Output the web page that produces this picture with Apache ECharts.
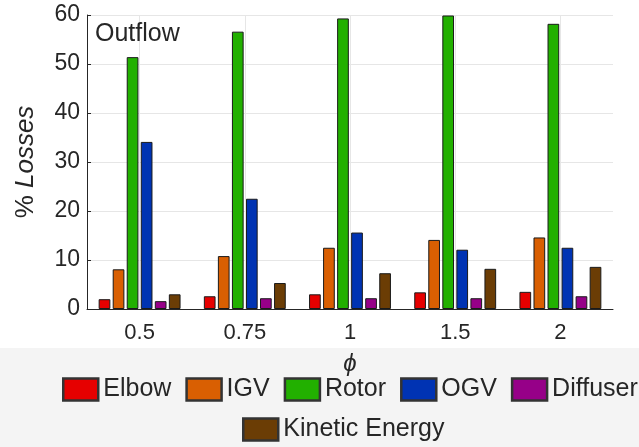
<!DOCTYPE html>
<html>
<head>
<meta charset="utf-8">
<script src="https://cdn.jsdelivr.net/npm/echarts@6/dist/echarts.min.js"></script>
<style>html,body{margin:0;padding:0;background:#fff}#c{width:639px;height:447px}</style>
</head>
<body>
<div id="c"></div>
<script>
const categories = ['0.5', '0.75', '1', '1.5', '2'];
const elbow    = [2.0, 2.6, 3.0, 3.4, 3.5];
const igv      = [8.1, 10.8, 12.5, 14.1, 14.6];
const rotor    = [51.4, 56.6, 59.3, 59.9, 58.2];
const ogv      = [34.1, 22.5, 15.6, 12.1, 12.5];
const diffuser = [1.6, 2.2, 2.2, 2.2, 2.6];
const kinetic  = [3.0, 5.3, 7.3, 8.2, 8.6];
const yTicks = [0, 10, 20, 30, 40, 50, 60];

const FONT = 'Arial, "Liberation Sans", sans-serif';
const TXT = '#262626';
const names = ['Elbow', 'IGV', 'Rotor', 'OGV', 'Diffuser', 'Kinetic Energy'];
const colors = ['#e60000', '#d95f02', '#22b000', '#0033b3', '#960088', '#6b3d05'];
const values = [elbow, igv, rotor, ogv, diffuser, kinetic];

const series = names.map((n, i) => ({
  name: n,
  type: 'bar',
  data: values[i],
  barWidth: 11.7,
  barGap: '20%',
  z: 3,
  itemStyle: { color: colors[i], borderColor: '#1a1a1a', borderWidth: 1 }
}));
series.push({
  type: 'line', name: '_grid', data: [], z: 1, silent: true,
  markLine: {
    silent: true, symbol: 'none', label: { show: false },
    lineStyle: { color: '#e6e6e6', width: 1, type: 'solid' },
    data: categories.map(c => ({ xAxis: c }))
  }
});

const chart = echarts.init(document.getElementById('c'));
chart.setOption({
  backgroundColor: '#ffffff',
  animation: false,
  textStyle: { fontFamily: FONT },
  graphic: [
    { type: 'rect', z: -1, shape: { x: 0, y: 348, width: 639, height: 99 }, style: { fill: '#f4f4f4' } },
    { type: 'text', left: 95, top: 22, z: 10, style: { text: 'Outflow', font: '25px ' + FONT, fill: TXT } }
  ],
  grid: { left: 87, right: 26, top: 15, bottom: 138 },
  legend: [
    {
      data: names.slice(0, 5), left: 62, top: 377, padding: 0,
      itemWidth: 35, itemHeight: 22, itemGap: 14,
      icon: 'rect',
      itemStyle: { borderColor: '#333', borderWidth: 2.5 },
      textStyle: { fontSize: 25, color: TXT, fontFamily: FONT }
    },
    {
      data: names.slice(5), left: 242, top: 417, padding: 0,
      itemWidth: 35, itemHeight: 22, itemGap: 14,
      icon: 'rect',
      itemStyle: { borderColor: '#333', borderWidth: 2.5 },
      textStyle: { fontSize: 25, color: TXT, fontFamily: FONT }
    }
  ],
  xAxis: {
    type: 'category',
    data: categories,
    name: 'ϕ',
    nameLocation: 'middle',
    nameGap: 43,
    nameTextStyle: { fontSize: 24, fontStyle: 'italic', color: TXT, fontFamily: FONT },
    axisLine: { lineStyle: { color: TXT, width: 1 } },
    axisTick: { show: false },
    axisLabel: { fontSize: 22, color: TXT, margin: 13, fontFamily: FONT },
    splitLine: { show: false }
  },
  yAxis: {
    type: 'value',
    min: 0, max: 60, interval: 10,
    name: '% {i|Losses}',
    nameLocation: 'middle',
    nameGap: 48,
    nameTextStyle: {
      fontSize: 26, color: TXT, fontFamily: FONT,
      rich: { i: { fontSize: 26, fontStyle: 'italic', color: TXT, fontFamily: FONT } }
    },
    axisLine: { show: true, lineStyle: { color: TXT, width: 1 } },
    axisTick: { show: true, inside: true, length: 4, lineStyle: { color: TXT } },
    axisLabel: {
      fontSize: 23, color: TXT, margin: 7, fontFamily: FONT,
      formatter: v => yTicks.includes(v) ? String(v) : ''
    },
    splitLine: { show: true, lineStyle: { color: '#e6e6e6', width: 1 } }
  },
  series: series
});
</script>
</body>
</html>
